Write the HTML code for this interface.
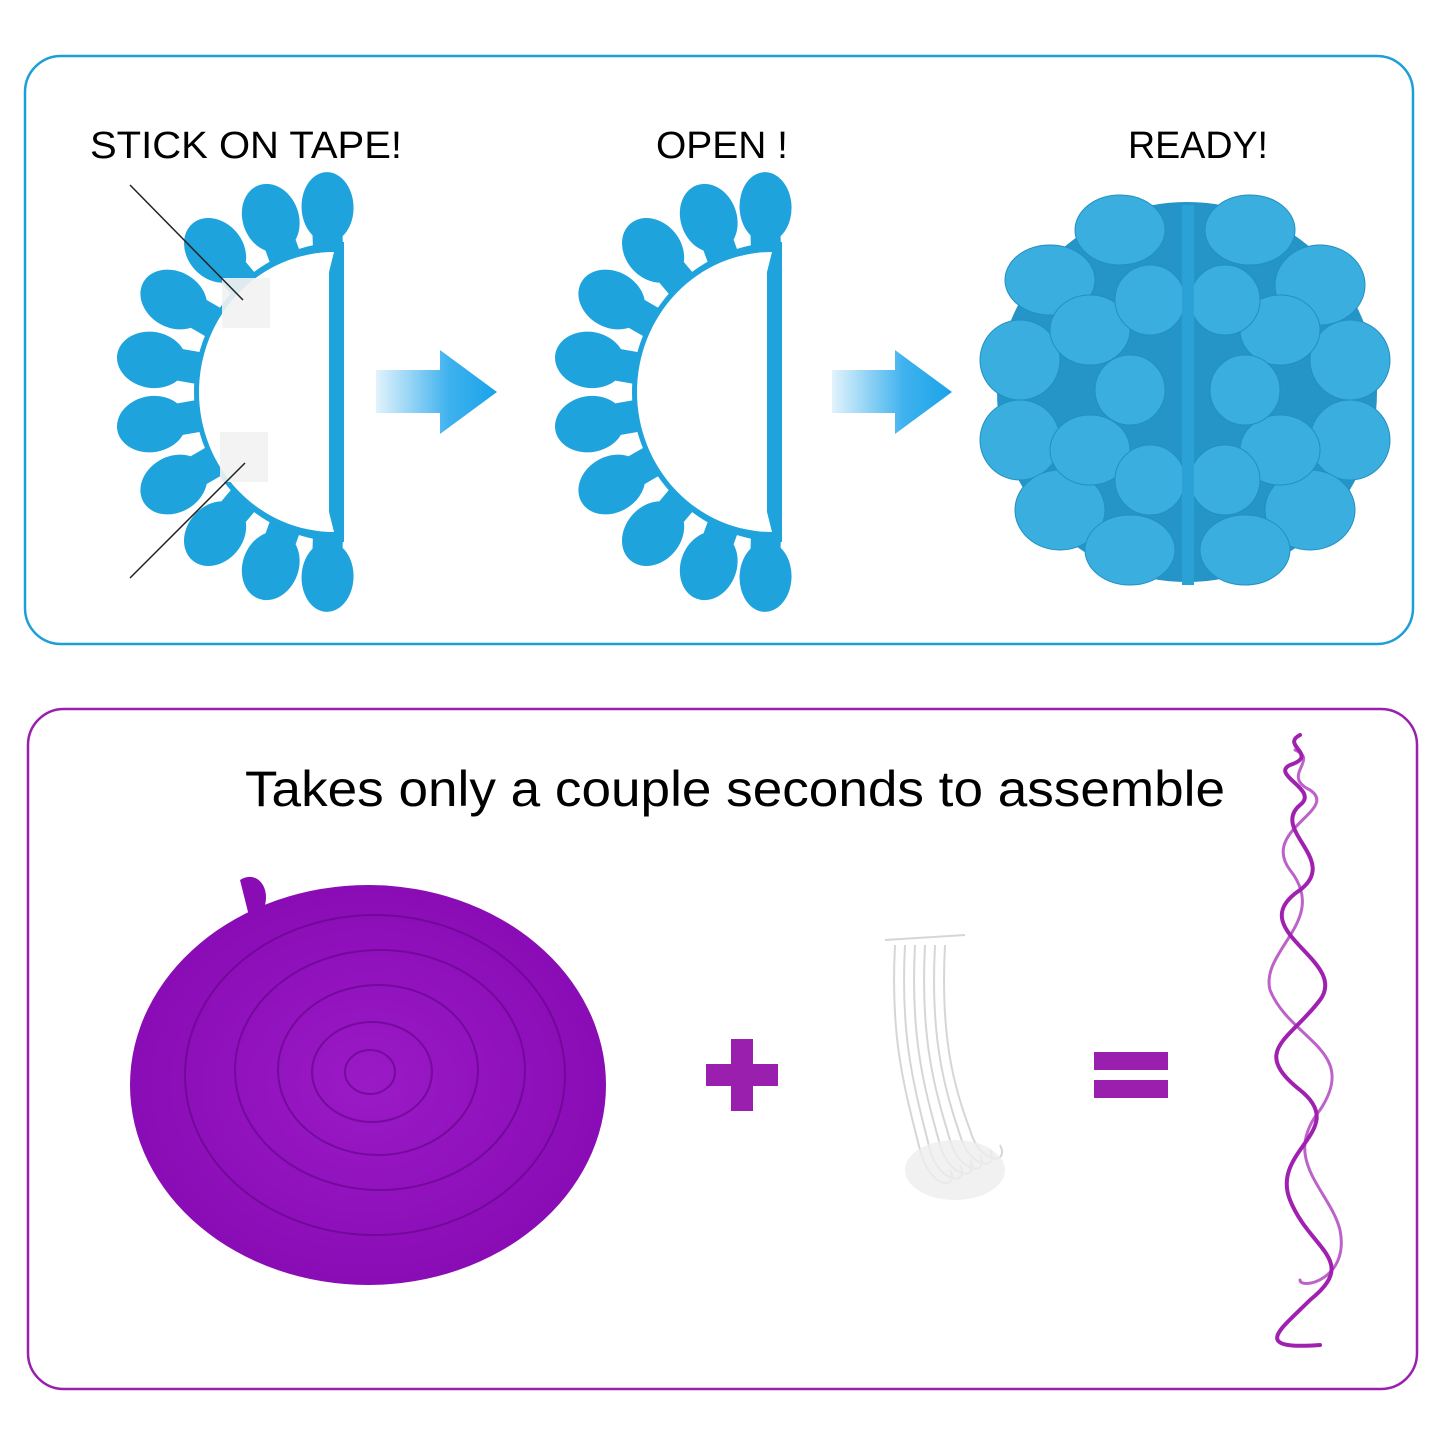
<!DOCTYPE html>
<html><head><meta charset="utf-8"><style>
html,body{margin:0;padding:0;background:#fff;}
svg{display:block}
text{font-family:"Liberation Sans",sans-serif;}
</style></head><body>
<svg width="1445" height="1445" viewBox="0 0 1445 1445" xmlns="http://www.w3.org/2000/svg">
<defs>
<linearGradient id="ag" x1="0" x2="1" y1="0" y2="0">
<stop offset="0" stop-color="#e3f3fc"/><stop offset="0.6" stop-color="#3fb2ee"/><stop offset="1" stop-color="#1aa3e8"/>
</linearGradient>
<radialGradient id="pg" cx="0.5" cy="0.5" r="0.5">
<stop offset="0" stop-color="#9a1bc6"/><stop offset="1" stop-color="#8a0cb5"/>
</radialGradient>
<g id="fan">
<g fill="#1fa3dc">
<g transform="rotate(-80)"><ellipse cx="0" cy="-185" rx="28" ry="35"/><rect x="-16" y="-180" width="32" height="60"/></g>
<g transform="rotate(-100)"><ellipse cx="0" cy="-185" rx="28" ry="35"/><rect x="-16" y="-180" width="32" height="60"/></g>
<g transform="rotate(-60)"><ellipse cx="0" cy="-185" rx="28" ry="35"/><rect x="-16" y="-180" width="32" height="60"/></g>
<g transform="rotate(-120)"><ellipse cx="0" cy="-185" rx="28" ry="35"/><rect x="-16" y="-180" width="32" height="60"/></g>
<g transform="rotate(-40)"><ellipse cx="0" cy="-185" rx="28" ry="35"/><rect x="-16" y="-180" width="32" height="60"/></g>
<g transform="rotate(-140)"><ellipse cx="0" cy="-185" rx="28" ry="35"/><rect x="-16" y="-180" width="32" height="60"/></g>
<g transform="rotate(-20)"><ellipse cx="0" cy="-185" rx="28" ry="35"/><rect x="-16" y="-180" width="32" height="60"/></g>
<g transform="rotate(-160)"><ellipse cx="0" cy="-185" rx="28" ry="35"/><rect x="-16" y="-180" width="32" height="60"/></g>
<g transform="rotate(-2)"><ellipse cx="0" cy="-185" rx="26" ry="35"/><rect x="-16" y="-180" width="30" height="60"/></g>
<g transform="rotate(-178)"><ellipse cx="0" cy="-185" rx="26" ry="35"/><rect x="-14" y="-180" width="30" height="60"/></g>
<path d="M10,-150 A150,150 0 0 0 10,150 Z"/>
</g>
<path d="M0,-140 A135,140 0 0 0 0,140 L-5,120 L-5,-120 Z" fill="#fff"/>
</g>
</defs>

<rect x="25" y="56" width="1388" height="588" rx="36" fill="none" stroke="#1c9fd6" stroke-width="2.5"/>
<rect x="28" y="709" width="1389" height="680" rx="36" fill="none" stroke="#9a1fae" stroke-width="2.5"/>

<text x="90" y="158" font-size="38" textLength="312" lengthAdjust="spacingAndGlyphs">STICK ON TAPE!</text>
<text x="656" y="158" font-size="38" textLength="132" lengthAdjust="spacingAndGlyphs">OPEN !</text>
<text x="1128" y="158" font-size="38" textLength="140" lengthAdjust="spacingAndGlyphs">READY!</text>

<g transform="translate(334,392)"><use href="#fan"/></g>
<rect x="222" y="278" width="48" height="50" fill="#f2f2f2" opacity="0.9"/>
<rect x="220" y="432" width="48" height="50" fill="#f2f2f2" opacity="0.9"/>
<line x1="130" y1="185" x2="243" y2="300" stroke="#222" stroke-width="1.5"/>
<line x1="130" y1="578" x2="245" y2="463" stroke="#222" stroke-width="1.5"/>

<g transform="translate(772,392)"><use href="#fan"/></g>

<path d="M376,370 L440,370 L440,350 L497,392 L440,434 L440,413 L376,413 Z" fill="url(#ag)"/>
<path d="M832,370 L895,370 L895,350 L952,392 L895,434 L895,413 L832,413 Z" fill="url(#ag)"/>

<g>
<circle cx="1187" cy="392" r="190" fill="#2594c6"/>
<g fill="#3aaedf" stroke="#2290c2" stroke-width="1">
<ellipse cx="1050" cy="280" rx="45" ry="35"/><ellipse cx="1120" cy="230" rx="45" ry="35"/>
<ellipse cx="1250" cy="230" rx="45" ry="35"/><ellipse cx="1320" cy="285" rx="45" ry="40"/>
<ellipse cx="1020" cy="360" rx="40" ry="40"/><ellipse cx="1350" cy="360" rx="40" ry="40"/>
<ellipse cx="1020" cy="440" rx="40" ry="40"/><ellipse cx="1350" cy="440" rx="40" ry="40"/>
<ellipse cx="1060" cy="510" rx="45" ry="40"/><ellipse cx="1310" cy="510" rx="45" ry="40"/>
<ellipse cx="1130" cy="550" rx="45" ry="35"/><ellipse cx="1245" cy="550" rx="45" ry="35"/>
<ellipse cx="1090" cy="330" rx="40" ry="35"/><ellipse cx="1280" cy="330" rx="40" ry="35"/>
<ellipse cx="1090" cy="450" rx="40" ry="35"/><ellipse cx="1280" cy="450" rx="40" ry="35"/>
<ellipse cx="1150" cy="300" rx="35" ry="35"/><ellipse cx="1225" cy="300" rx="35" ry="35"/>
<ellipse cx="1150" cy="480" rx="35" ry="35"/><ellipse cx="1225" cy="480" rx="35" ry="35"/>
<ellipse cx="1130" cy="390" rx="35" ry="35"/><ellipse cx="1245" cy="390" rx="35" ry="35"/>
</g>
<rect x="1182" y="205" width="12" height="380" fill="#2aa2d6"/>
</g>

<text x="245" y="806" font-size="50" textLength="980" lengthAdjust="spacingAndGlyphs">Takes only a couple seconds to assemble</text>

<ellipse cx="368" cy="1085" rx="238" ry="200" fill="url(#pg)"/>
<path d="M240,880 C255,870 270,885 265,905 L250,920 Z" fill="#8a0cb5"/>
<g fill="none" stroke="#6a0590" stroke-width="2" opacity="0.7">
<ellipse cx="375" cy="1075" rx="190" ry="160"/>
<ellipse cx="380" cy="1070" rx="145" ry="120"/>
<ellipse cx="378" cy="1070" rx="100" ry="85"/>
<ellipse cx="372" cy="1072" rx="60" ry="50"/>
<ellipse cx="370" cy="1072" rx="25" ry="22"/>
</g>

<rect x="706" y="1064" width="72" height="22" fill="#9a1fae"/>
<rect x="731" y="1039" width="22" height="72" fill="#9a1fae"/>
<rect x="1094" y="1052" width="74" height="18" fill="#9a1fae"/>
<rect x="1094" y="1080" width="74" height="18" fill="#9a1fae"/>

<g fill="none" stroke="#d6d6d6" stroke-width="2">
<path d="M885,940 L965,935"/>
<path d="M895,945 C890,1040 905,1090 920,1150 C930,1190 960,1190 950,1170"/>
<path d="M905,945 C900,1040 915,1090 930,1150 C940,1185 970,1185 960,1165"/>
<path d="M915,945 C910,1040 925,1090 940,1145 C950,1180 980,1180 970,1160"/>
<path d="M925,945 C920,1040 935,1090 950,1140 C960,1175 990,1175 980,1155"/>
<path d="M935,945 C930,1040 945,1090 960,1135 C970,1170 1000,1170 990,1150"/>
<path d="M945,945 C940,1040 955,1090 970,1130 C980,1165 1010,1165 1000,1145"/>
</g>
<ellipse cx="955" cy="1170" rx="50" ry="30" fill="#eeeeee" opacity="0.8"/>

<g fill="none" stroke="#a020b0" stroke-linecap="round">
<path d="M1300,735 C1280,745 1320,755 1290,765 C1270,775 1320,790 1300,805 C1270,830 1340,860 1300,890 C1240,930 1350,960 1320,1000 C1290,1040 1250,1050 1300,1090 C1350,1130 1270,1150 1290,1200 C1310,1250 1360,1260 1310,1300 C1280,1330 1250,1350 1320,1345" stroke-width="4"/>
<path d="M1295,750 C1320,760 1280,775 1310,790 C1340,810 1260,830 1290,870 C1330,920 1260,950 1270,990 C1290,1040 1360,1050 1320,1110 C1280,1160 1330,1190 1340,1230 C1350,1280 1300,1290 1300,1280" stroke-width="3" opacity="0.7"/>
</g>
</svg>
</body></html>
